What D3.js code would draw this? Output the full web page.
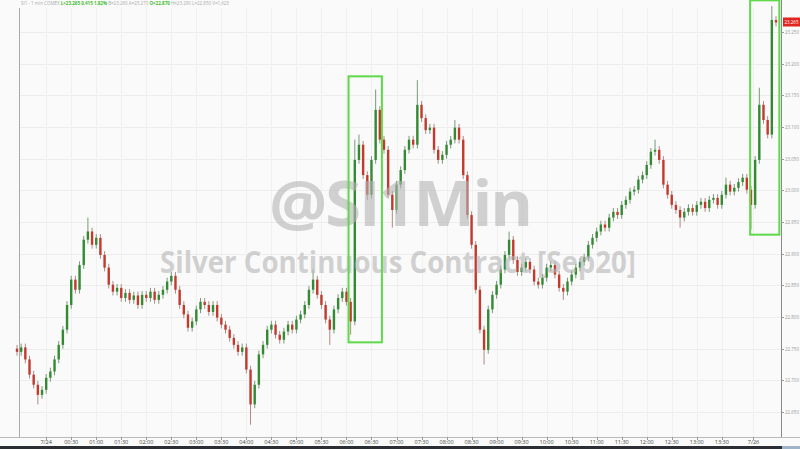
<!doctype html>
<html>
<head>
  <meta charset="utf-8">
  <title>Silver 1 min</title>
  <script src="https://cdn.jsdelivr.net/npm/d3@7"></script>
  <style>
    body { margin: 0; background: #fff; }
    svg { display: block; font-family: 'Open Sans', 'DejaVu Sans', sans-serif; }
  </style>
</head>
<body>
  <div id="chart"></div>

  <script type="text/javascript">
    // closing prices, one per bar
    var closes = [
      22.745, 22.752, 22.733, 22.709, 22.693, 22.677, 22.685, 22.704, 22.714, 22.733,
      22.756, 22.780, 22.819, 22.859, 22.843, 22.882, 22.922, 22.935, 22.914, 22.925,
      22.898, 22.878, 22.851, 22.840, 22.846, 22.830, 22.838, 22.827, 22.834, 22.819,
      22.835, 22.830, 22.840, 22.827, 22.835, 22.843, 22.856, 22.865, 22.843, 22.819,
      22.804, 22.783, 22.793, 22.812, 22.824, 22.819, 22.808, 22.819, 22.799, 22.788,
      22.780, 22.767, 22.756, 22.745, 22.752, 22.717, 22.662, 22.693, 22.741, 22.756,
      22.780, 22.788, 22.772, 22.764, 22.777, 22.788, 22.780, 22.796, 22.804, 22.819,
      22.843, 22.859, 22.835, 22.819, 22.796, 22.780, 22.812, 22.830, 22.840, 22.824,
      22.793, 23.048, 23.072, 23.024, 22.993, 23.048, 23.127, 23.080, 23.064, 22.993,
      22.969, 23.009, 23.032, 23.064, 23.080, 23.072, 23.135, 23.114, 23.095, 23.099,
      23.064, 23.048, 23.056, 23.072, 23.080, 23.099, 23.080, 23.024, 22.961, 22.914,
      22.843, 22.780, 22.748, 22.812, 22.835, 22.851, 22.875, 22.898, 22.922, 22.890,
      22.871, 22.878, 22.887, 22.875, 22.856, 22.851, 22.862, 22.878, 22.882, 22.867,
      22.846, 22.840, 22.856, 22.867, 22.878, 22.887, 22.894, 22.914, 22.925, 22.935,
      22.946, 22.941, 22.957, 22.966, 22.961, 22.977, 22.985, 22.998, 23.001, 23.017,
      23.024, 23.040, 23.061, 23.064, 23.048, 23.009, 22.993, 22.977, 22.969, 22.957,
      22.966, 22.972, 22.966, 22.977, 22.982, 22.972, 22.985, 22.988, 22.977, 22.993,
      23.009, 22.998, 23.004, 23.013, 23.020, 23.001, 22.977, 23.048, 23.135, 23.111,
      23.088, 23.269, 23.265
    ];
    var firstOpen = 22.750;

    // the long wicks that stand out
    var highs = { 17: 22.957, 71: 22.875, 81: 23.080, 82: 23.088, 86: 23.159, 96: 23.174,
                  105: 23.111, 118: 22.935, 153: 23.080, 170: 23.020, 178: 23.162, 181: 23.291 };
    var lows = { 5: 22.662, 56: 22.630, 75: 22.756, 80: 22.772, 84: 22.985, 90: 22.941,
                 112: 22.725, 131: 22.827, 159: 22.941, 176: 22.938 };

    var tickLabels = ['7/24', '00:30', '01:00', '01:30', '02:00', '02:30', '03:00', '03:30',
      '04:00', '04:30', '05:00', '05:30', '06:00', '06:30', '07:00', '07:30', '08:00', '08:30',
      '09:00', '09:30', '10:00', '10:30', '11:00', '11:30', '12:00', '12:30', '13:00', '13:30', '7/26'];
    var tickBars = [7, 13, 19, 25, 31, 37, 43, 49, 55, 61, 67, 73, 79, 85, 91, 97, 103, 109,
      115, 121, 127, 133, 139, 145, 151, 157, 163, 169, 176.6];

    var priceTicks = [23.25, 23.2, 23.15, 23.1, 23.05, 23.0, 22.95, 22.9, 22.85, 22.8, 22.75, 22.7, 22.65];
    var lastPrice = 23.265;

    // highlighted spikes: [first bar, last bar, top price, bottom price]
    var boxes = [[79.5, 87.5, 23.18, 22.76], [175.8, 182.8, 23.30, 22.93]];

    var width = 800;
    var height = 449;
    var wick = 0.006;

    var candles = closes.map(function(c, i) {
      var o = i === 0 ? firstOpen : closes[i - 1];
      var hi = highs[i] !== undefined ? highs[i] : Math.max(o, c) + wick;
      var lo = lows[i] !== undefined ? lows[i] : Math.min(o, c) - wick;
      return { i: i, o: o, c: c, h: hi, l: lo };
    });

    var x = d3.scaleLinear().domain([0, closes.length - 1]).range([17, 776]);
    var y = d3.scaleLinear().domain([22.65, 23.25]).range([412, 32]);

    var svg = d3.select('#chart').append('svg')
      .attr('width', width)
      .attr('height', height);

    svg.append('rect').attr('width', width).attr('height', height).attr('fill', '#fafafa');

    // grid
    svg.append('g').selectAll('line')
      .data(priceTicks)
      .enter().append('line')
      .attr('x1', 19).attr('x2', 781)
      .attr('y1', function(d) { return Math.round(y(d)) + 0.5; })
      .attr('y2', function(d) { return Math.round(y(d)) + 0.5; })
      .attr('stroke', '#ededed');

    svg.append('g').selectAll('line')
      .data(tickBars)
      .enter().append('line')
      .attr('x1', function(d) { return Math.round(x(d)) + 0.5; })
      .attr('x2', function(d) { return Math.round(x(d)) + 0.5; })
      .attr('y1', 8).attr('y2', 437)
      .attr('stroke', '#f0f0f0');

    // frame
    svg.append('line').attr('x1', 19.5).attr('x2', 19.5).attr('y1', 8).attr('y2', 437).attr('stroke', '#aaa');
    svg.append('line').attr('x1', 781.5).attr('x2', 781.5).attr('y1', 0).attr('y2', 437).attr('stroke', '#888');
    svg.append('line').attr('x1', 0).attr('x2', 800).attr('y1', 437.5).attr('y2', 437.5).attr('stroke', '#bbb');

    // candles
    var up = '#338a33', down = '#c23a2e';
    var g = svg.append('g');
    g.selectAll('line.wick')
      .data(candles)
      .enter().append('line')
      .attr('class', 'wick')
      .attr('x1', function(d) { return x(d.i); })
      .attr('x2', function(d) { return x(d.i); })
      .attr('y1', function(d) { return y(d.h); })
      .attr('y2', function(d) { return y(d.l); })
      .attr('stroke', function(d) { return d.c >= d.o ? '#789a78' : '#b08a84'; })
      .attr('stroke-width', 1);

    g.selectAll('rect.body')
      .data(candles)
      .enter().append('rect')
      .attr('class', 'body')
      .attr('x', function(d) { return x(d.i) - 1.2; })
      .attr('width', 2.4)
      .attr('y', function(d) { return y(Math.max(d.o, d.c)); })
      .attr('height', function(d) { return Math.max(1, Math.abs(y(d.o) - y(d.c))); })
      .attr('fill', function(d) { return d.c >= d.o ? up : down; });

    // watermark
    svg.append('text')
      .attr('x', 400).attr('y', 226)
      .attr('text-anchor', 'middle')
      .attr('font-size', '62px').attr('font-weight', 'bold')
      .attr('letter-spacing', '-2px')
      .attr('textLength', 262).attr('lengthAdjust', 'spacingAndGlyphs')
      .attr('fill', '#b4b4b4').attr('fill-opacity', 0.6)
      .text('@SI1Min');

    svg.append('text')
      .attr('x', 398).attr('y', 273)
      .attr('text-anchor', 'middle')
      .attr('font-size', '30px').attr('font-weight', 'bold')
      .attr('textLength', 476).attr('lengthAdjust', 'spacingAndGlyphs')
      .attr('fill', '#b4b4b4').attr('fill-opacity', 0.6)
      .text('Silver Continuous Contract [Sep20]');

    // highlight boxes
    svg.append('g').selectAll('rect')
      .data(boxes)
      .enter().append('rect')
      .attr('x', function(d) { return x(d[0]); })
      .attr('width', function(d) { return x(d[1]) - x(d[0]); })
      .attr('y', function(d) { return y(d[2]); })
      .attr('height', function(d) { return y(d[3]) - y(d[2]); })
      .attr('fill', 'none')
      .attr('stroke', '#5fd94a')
      .attr('stroke-width', 2);

    // price axis
    var yAxis = svg.append('g');
    yAxis.selectAll('line')
      .data(priceTicks)
      .enter().append('line')
      .attr('x1', 781).attr('x2', 784)
      .attr('y1', function(d) { return Math.round(y(d)) + 0.5; })
      .attr('y2', function(d) { return Math.round(y(d)) + 0.5; })
      .attr('stroke', '#999');
    yAxis.selectAll('text')
      .data(priceTicks)
      .enter().append('text')
      .attr('x', 785)
      .attr('y', function(d) { return y(d) + 2; })
      .attr('font-size', '5px')
      .attr('textLength', 14).attr('lengthAdjust', 'spacingAndGlyphs')
      .attr('fill', '#999')
      .text(function(d) { return d.toFixed(3); });

    svg.append('rect')
      .attr('x', 783).attr('y', y(lastPrice) - 5)
      .attr('width', 17).attr('height', 9)
      .attr('fill', '#e0261f');
    svg.append('text')
      .attr('x', 784.5).attr('y', y(lastPrice) + 1.8)
      .attr('font-size', '5px')
      .attr('textLength', 14).attr('lengthAdjust', 'spacingAndGlyphs')
      .attr('fill', '#fff')
      .text(lastPrice.toFixed(3));

    // time axis
    var xAxis = svg.append('g');
    xAxis.selectAll('line')
      .data(tickBars)
      .enter().append('line')
      .attr('x1', function(d) { return Math.round(x(d)) + 0.5; })
      .attr('x2', function(d) { return Math.round(x(d)) + 0.5; })
      .attr('y1', 437).attr('y2', 440)
      .attr('stroke', '#999');
    xAxis.selectAll('text')
      .data(tickBars)
      .enter().append('text')
      .attr('x', function(d) { return x(d); })
      .attr('y', 444)
      .attr('text-anchor', 'middle')
      .attr('font-size', '5.5px')
      .attr('fill', '#444')
      .text(function(d, i) { return tickLabels[i]; });

    // bottom bar
    svg.append('rect').attr('x', 0).attr('y', 446).attr('width', 800).attr('height', 3).attr('fill', '#2b2f33');
    svg.append('rect').attr('x', 782).attr('y', 446).attr('width', 18).attr('height', 3).attr('fill', '#9fb4c8');

    // header line
    var header = svg.append('text').attr('x', 21).attr('y', 5).attr('font-size', '4.5px');
    header.append('tspan').attr('fill', '#aaa').text('SI1 - 1 min COMEX  ');
    header.append('tspan').attr('fill', '#3cbf2c').attr('font-weight', 'bold').text('L=23.265  0.415  1.82%  ');
    header.append('tspan').attr('fill', '#aaa').text('B=23.260  A=23.270  ');
    header.append('tspan').attr('fill', '#3cbf2c').attr('font-weight', 'bold').text('O=22.870  ');
    header.append('tspan').attr('fill', '#aaa').text('H=23.290  L=22.850  V=1,623');
  </script>
</body>
</html>
